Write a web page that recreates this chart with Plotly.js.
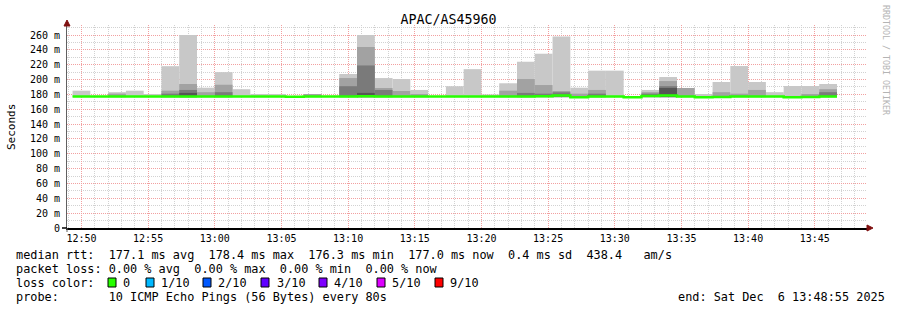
<!DOCTYPE html>
<html>
<head>
<meta charset="utf-8">
<script src="https://cdn.plot.ly/plotly-3.0.1.min.js"></script>
<style>html,body{margin:0;padding:0;background:#fff;}#chart{width:897px;height:310px;}</style>
</head>
<body>
<div id="chart"></div>
<script>
// ---- data (start time of each 80 s step) ----
const stepStarts = [
 '2025-12-06 12:49:20','2025-12-06 12:50:40','2025-12-06 12:52:00','2025-12-06 12:53:20','2025-12-06 12:54:40',
 '2025-12-06 12:56:00','2025-12-06 12:57:20','2025-12-06 12:58:40','2025-12-06 13:00:00','2025-12-06 13:01:20',
 '2025-12-06 13:02:40','2025-12-06 13:04:00','2025-12-06 13:05:20','2025-12-06 13:06:40','2025-12-06 13:08:00',
 '2025-12-06 13:09:20','2025-12-06 13:10:40','2025-12-06 13:12:00','2025-12-06 13:13:20','2025-12-06 13:14:40',
 '2025-12-06 13:16:00','2025-12-06 13:17:20','2025-12-06 13:18:40','2025-12-06 13:20:00','2025-12-06 13:21:20',
 '2025-12-06 13:22:40','2025-12-06 13:24:00','2025-12-06 13:25:20','2025-12-06 13:26:40','2025-12-06 13:28:00',
 '2025-12-06 13:29:20','2025-12-06 13:30:40','2025-12-06 13:32:00','2025-12-06 13:33:20','2025-12-06 13:34:40',
 '2025-12-06 13:36:00','2025-12-06 13:37:20','2025-12-06 13:38:40','2025-12-06 13:40:00','2025-12-06 13:41:20',
 '2025-12-06 13:42:40','2025-12-06 13:44:00','2025-12-06 13:45:20'];
const lastStepEnd = '2025-12-06 13:46:40';
const stepMs = 80000;

// smoke band tops (ms), lightest (outermost pings) to darkest (innermost)
const smoke1 = [185,null,183,185,180.5,218,260,189,210,187,180.5,180.5,null,null,null,207.5,260,202,200.7,186,null,191,214,180,195,224,234.8,258,189,212,212,null,186,203.4,null,180.5,196.7,218.2,196.7,183,191.3,191.3,194];
const smoke2 = [null,null,181,null,null,185,194,183,193,null,null,null,null,180.5,null,202,244,188.6,184.6,180.5,null,null,null,null,185,200.7,192.6,184.6,181,186,null,null,183,198,188.6,null,183,181,186,null,null,180.5,187];
const smoke3 = [null,null,null,null,null,181,186,null,183,null,null,null,null,null,null,191,219,186,null,null,null,null,null,null,null,182,181,182.8,null,181,null,null,181,191,null,null,null,null,null,null,null,null,183];
const smoke4 = [null,null,null,null,null,null,182,null,null,null,null,null,null,null,null,null,182,null,null,null,null,null,null,null,null,null,null,null,null,null,null,null,null,188.6,null,null,null,null,null,null,null,null,null];
const smokeBase = 176.3;
const medianRtt = [177.2,177.2,177.2,177.2,177.2,177.2,177.3,177.2,177.2,177.2,
                   177.2,177.2,176.8,177.2,177.2,177.2,177.4,177.2,177.2,177.2,
                   177.2,177.2,177.2,177.2,177.2,177.2,177.4,178.4,176.3,177.2,
                   177.2,176.3,177.8,178.4,177.2,176.3,176.6,177.2,177.2,177.2,
                   176.3,176.5,177.2];

const yTickVals = [0,20,40,60,80,100,120,140,160,180,200,220,240,260];
const yTickText = yTickVals.map(v => v === 0 ? '0' : v + ' m');

const lossLabels = ['0','1/10','2/10','3/10','4/10','5/10','9/10'];
const lossColors = ['#26ff00','#00b8ff','#0059ff','#5e00ff','#7e00ff','#dd00ff','#ff0000'];

const titleText = 'APAC/AS45960';
const line1 = 'median rtt:  177.1 ms avg  178.4 ms max  176.3 ms min  177.0 ms now  0.4 ms sd  438.4   am/s';
const line2 = 'packet loss: 0.00 % avg  0.00 % max  0.00 % min  0.00 % now';
const line3 = 'loss color:';
const line4 = 'probe:       10 ICMP Echo Pings (56 Bytes) every 80s';
const endText = 'end: Sat Dec  6 13:48:55 2025';

// ---- geometry helpers (pixel -> paper) ----
const L = 67, R = 30, T = 25, B = 82, W = 897, H = 310;
const PW = W - L - R, PH = H - T - B;
const px = x => (x - L) / PW;
const py = y => (H - B - y) / PH;
const nb = s => s.replace(/ /g, '\u00a0');
const mono = 'DejaVu Sans Mono, monospace';

const smokeColors = ['#c8c8c8','#a2a2a2','#7a7a7a','#555555'];
const traces = [smoke1, smoke2, smoke3, smoke4].map((arr, k) => ({
  type: 'bar',
  x: stepStarts,
  y: arr.map(v => v == null ? null : v - smokeBase),
  base: smokeBase,
  width: stepMs,
  offset: 0,
  marker: {color: smokeColors[k], line: {width: 0}},
  hoverinfo: 'skip'
}));
traces.push({
  type: 'scatter', mode: 'lines',
  x: stepStarts.concat([lastStepEnd]),
  y: medianRtt.concat([medianRtt[medianRtt.length - 1]]),
  line: {shape: 'hv', color: lossColors[0], width: 2.5},
  hoverinfo: 'skip'
});

const txtFont = {family: mono, size: 11.85, color: '#000'};
const ann = [];
const dx = -2;
function addText(text, x, y, extra) {
  ann.push(Object.assign({text: nb(text), xref: 'paper', yref: 'paper', x: px(x + dx), y: py(y),
    xanchor: 'left', yanchor: 'middle', showarrow: false, font: txtFont}, extra || {}));
}
addText(line1, 16, 254.5);
addText(line2, 16, 268.5);
addText(line3, 16, 282.5);
addText(line4, 16, 296.5);
addText(endText, 678, 296.5);

const boxX = [108,146,203,261,319,377,435];
const labX = [123,161,218,277,334,392,450];
const shapes = [];
lossLabels.forEach((lab, i) => {
  addText(lab, labX[i], 282.5);
  shapes.push({type: 'rect', xref: 'paper', yref: 'paper',
    x0: px(boxX[i]), x1: px(boxX[i] + 8), y0: py(278), y1: py(287),
    line: {color: '#000', width: 1}, fillcolor: lossColors[i]});
});
// y-axis title
ann.push({text: 'Seconds', xref: 'paper', yref: 'paper', x: px(11), y: py(127), textangle: -90,
  xanchor: 'center', yanchor: 'middle', showarrow: false, font: {family: mono, size: 11, color: '#000'}});
// watermark
ann.push({text: nb('RRDTOOL / TOBI OETIKER'), xref: 'paper', yref: 'paper', x: px(886), y: py(60), textangle: 90,
  xanchor: 'center', yanchor: 'middle', showarrow: false, font: {family: mono, size: 8.3, color: '#b4b4b4'}});

// axis arrows
const arrowCol = '#7f1010';
shapes.push({type: 'path', xref: 'paper', yref: 'paper', fillcolor: arrowCol, line: {color: arrowCol, width: 1},
  path: `M ${px(64)} ${py(26)} L ${px(70)} ${py(26)} L ${px(67)} ${py(20)} Z`});
shapes.push({type: 'path', xref: 'paper', yref: 'paper', fillcolor: arrowCol, line: {color: arrowCol, width: 1},
  path: `M ${px(867)} ${py(225)} L ${px(867)} ${py(231)} L ${px(873)} ${py(228)} Z`});
shapes.push({type: 'line', xref: 'paper', yref: 'paper', x0: px(62), x1: px(67), y0: 0, y1: 0, line: {color: '#000', width: 1.5}});
shapes.push({type: 'line', xref: 'paper', yref: 'paper', x0: 0, x1: 0, y0: py(232), y1: 0, line: {color: '#606060', width: 1}});

const majorGrid = '#f2a0a0', minorGrid = '#d2d2d2';
const layout = {
  width: W, height: H,
  margin: {l: L, r: R, t: T, b: B, pad: 0},
  paper_bgcolor: '#ffffff', plot_bgcolor: '#ffffff',
  showlegend: false, barmode: 'overlay',
  title: {text: titleText, font: {family: mono, size: 13.3, color: '#000'},
    x: 0.5, xref: 'container', xanchor: 'center', y: 1 - 19 / H, yref: 'container', yanchor: 'middle'},
  xaxis: {
    type: 'date', range: ['2025-12-06 12:48:55', '2025-12-06 13:48:55'],
    tickmode: 'linear', tick0: '2025-12-06 12:50:00', dtick: 300000, tickformat: '%H:%M',
    showgrid: true, gridcolor: majorGrid, griddash: '1px,1px', gridwidth: 1,
    minor: {tickmode: 'linear', tick0: '2025-12-06 12:50:00', dtick: 60000, showgrid: true,
      gridcolor: minorGrid, griddash: '1px,1px', gridwidth: 1},
    showline: true, linecolor: '#000', linewidth: 1.5, zeroline: false,
    ticks: '', tickfont: {family: mono, size: 10, color: '#000'}, fixedrange: true
  },
  yaxis: {
    range: [0, 273.5], tickmode: 'array', tickvals: yTickVals, ticktext: yTickText,
    showgrid: true, gridcolor: majorGrid, griddash: '1px,1px', gridwidth: 1,
    minor: {tickmode: 'linear', tick0: 0, dtick: 10, showgrid: true,
      gridcolor: minorGrid, griddash: '1px,1px', gridwidth: 1},
    showline: true, linecolor: '#606060', linewidth: 1, zeroline: false,
    ticks: 'outside', ticklen: 4, tickcolor: 'rgba(0,0,0,0)', tickwidth: 1,
    tickfont: {family: mono, size: 10, color: '#000'}, fixedrange: true
  },
  annotations: ann,
  shapes: shapes
};

Plotly.newPlot('chart', traces, layout, {staticPlot: true, displayModeBar: false});
</script>
</body>
</html>
